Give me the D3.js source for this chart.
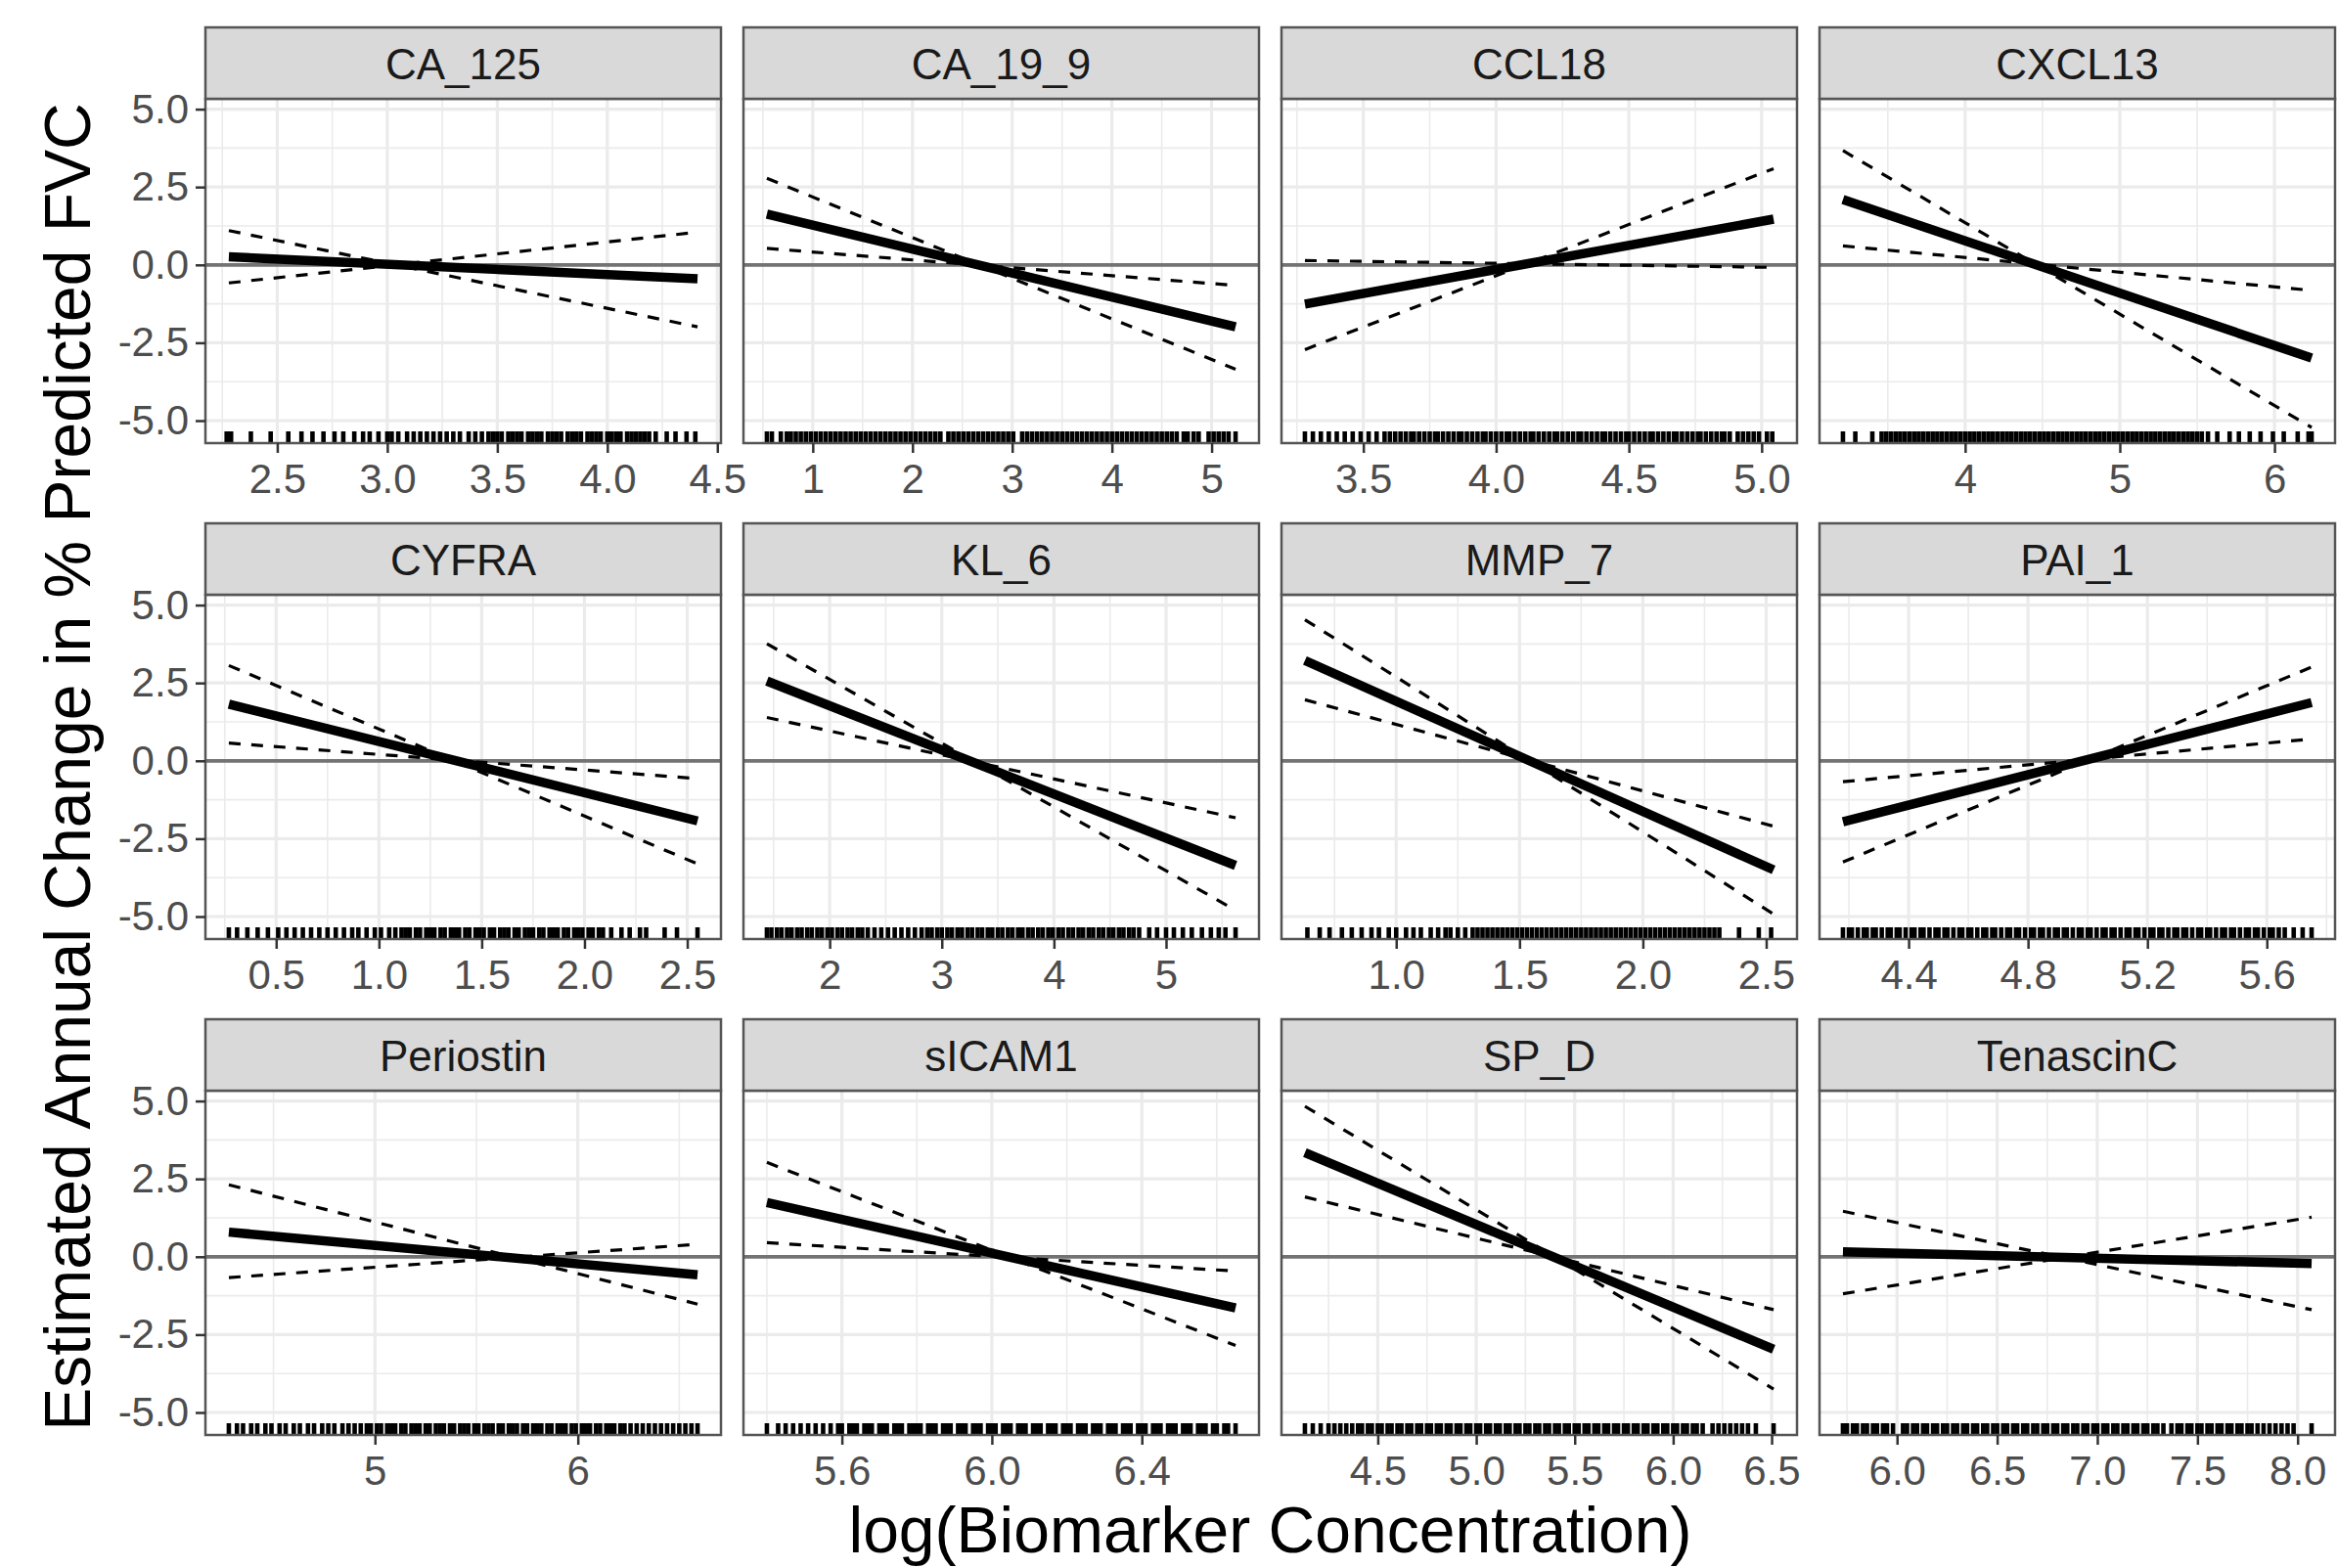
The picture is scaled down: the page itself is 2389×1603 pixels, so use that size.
<!DOCTYPE html>
<html>
<head>
<meta charset="utf-8">
<script src="https://cdn.jsdelivr.net/npm/d3@7"></script>
<style>
  body { margin: 0; background: #fff; }
  svg { display: block; font-family: "Liberation Sans", Arial, sans-serif; }
</style>
</head>
<body>
<div id="chart"></div>
<script>
// DATA

var biomarkers = ["CA_125", "CA_19_9", "CCL18", "CXCL13", "CYFRA", "KL_6",
  "MMP_7", "PAI_1", "Periostin", "sICAM1", "SP_D", "TenascinC"];

// range of log(concentration) covered by each fitted line
var xRanges = [[2.28, 4.41], [0.54, 5.24], [3.28, 5.045], [3.21, 6.24],
  [0.27, 2.55], [1.44, 5.62], [0.63, 2.53], [4.18, 5.75],
  [4.28, 6.59], [5.40, 6.65], [4.13, 6.51], [5.73, 8.07]];

// estimate at the left / right end of the range
var fitEnds = [[0.26, -0.45], [1.63, -1.99], [-1.26, 1.47], [2.1, -2.99],
  [1.82, -1.93], [2.56, -3.36], [3.22, -3.5], [-1.96, 1.87],
  [0.79, -0.58], [1.74, -1.64], [3.34, -2.97], [0.16, -0.22]];

// dashed bounds (two per panel)
var boundAEnds = [[1.1, -1.99], [2.78, -3.35], [-2.72, 3.09], [3.67, -5.22],
  [3.06, -3.31], [3.76, -4.8], [4.53, -4.92], [-3.25, 3.01],
  [2.31, -1.52], [3.03, -2.85], [4.83, -4.25], [1.46, -1.7]];
var boundBEnds = [[-0.58, 1.05], [0.53, -0.66], [0.14, -0.08], [0.61, -0.82],
  [0.57, -0.57], [1.39, -1.83], [1.96, -2.1], [-0.67, 0.7],
  [-0.67, 0.4], [0.45, -0.46], [1.92, -1.7], [-1.19, 1.27]];

var xTickLabels = [["2.5", "3.0", "3.5", "4.0", "4.5"], ["1", "2", "3", "4", "5"],
  ["3.5", "4.0", "4.5", "5.0"], ["4", "5", "6"],
  ["0.5", "1.0", "1.5", "2.0", "2.5"], ["2", "3", "4", "5"],
  ["1.0", "1.5", "2.0", "2.5"], ["4.4", "4.8", "5.2", "5.6"],
  ["5", "6"], ["5.6", "6.0", "6.4"],
  ["4.5", "5.0", "5.5", "6.0", "6.5"], ["6.0", "6.5", "7.0", "7.5", "8.0"]];

var yTickLabels = ["-5.0", "-2.5", "0.0", "2.5", "5.0"];

// rug: observed biomarker values
var rugCA125 = [2.27, 2.29, 2.38, 2.47, 2.55, 2.61, 2.66, 2.71, 2.76, 2.8, 2.85, 2.89, 2.92, 2.96, 3.0, 3.02, 3.05, 3.09, 3.12, 3.15, 3.18, 3.21, 3.24, 3.27, 3.3, 3.33, 3.37, 3.4, 3.43, 3.46,
  3.48, 3.5, 3.52, 3.55, 3.57, 3.59, 3.61, 3.64, 3.66, 3.68, 3.7, 3.73, 3.75, 3.77, 3.79, 3.82, 3.84, 3.86, 3.88, 3.91, 3.93, 3.95, 3.97, 4.0, 4.02, 4.04, 4.06, 4.09, 4.11, 4.13, 4.15, 4.17,
  4.19, 4.22, 4.27, 4.31, 4.36, 4.4];
var rugCA199 = [0.54, 0.59, 0.68, 0.74,
  0.78, 0.83, 0.88, 0.93, 0.98, 1.03, 1.08, 1.13, 1.18, 1.23, 1.28, 1.33, 1.38, 1.43, 1.48, 1.53, 1.58, 1.63, 1.68, 1.73, 1.78, 1.83, 1.88, 1.93, 1.98, 2.03, 2.08, 2.13, 2.18, 2.23, 2.28,
  2.36, 2.41, 2.46, 2.51, 2.56, 2.61, 2.66, 2.71, 2.76, 2.81, 2.86, 2.91, 2.96, 3.01, 3.1, 3.15, 3.2, 3.25, 3.3, 3.35, 3.4, 3.45, 3.5, 3.55, 3.6, 3.65, 3.7, 3.75, 3.8, 3.85, 3.9, 3.95,
  4.0, 4.05, 4.1, 4.15, 4.2, 4.25, 4.3, 4.35, 4.4, 4.45, 4.5, 4.55, 4.6, 4.65,
  4.72, 4.76, 4.82, 4.87, 4.97, 5.02, 5.07, 5.12, 5.17, 5.24];
var rugCCL18 = [3.28, 3.31, 3.34, 3.37, 3.4, 3.43, 3.46, 3.49, 3.52, 3.55, 3.58, 3.6,
  3.62, 3.64, 3.66, 3.68, 3.69, 3.71, 3.73, 3.75, 3.77, 3.78, 3.8, 3.82, 3.84, 3.86, 3.87, 3.89, 3.91, 3.93, 3.95, 3.96, 3.98, 4.0, 4.02, 4.04, 4.05, 4.07, 4.09, 4.11, 4.13, 4.14,
  4.16, 4.18, 4.2, 4.22, 4.23, 4.25, 4.27, 4.29, 4.31, 4.32, 4.34, 4.36, 4.38, 4.4, 4.41, 4.43, 4.45, 4.47, 4.49, 4.5, 4.52, 4.54, 4.56, 4.58, 4.59, 4.61, 4.63, 4.65, 4.67, 4.68,
  4.7, 4.72, 4.74, 4.76, 4.77, 4.79, 4.81, 4.83, 4.85, 4.86, 4.88,
  4.91, 4.93, 4.95, 4.97, 4.99, 5.02, 5.04];
var rugCXCL13 = [3.21, 3.29, 3.4, 3.46,
  3.49, 3.52, 3.55, 3.58, 3.61, 3.64, 3.67, 3.7, 3.73, 3.76, 3.79, 3.82, 3.85, 3.88, 3.91, 3.94, 3.97, 4.0, 4.03, 4.06, 4.09, 4.12, 4.15, 4.18, 4.21, 4.24, 4.27, 4.3, 4.33, 4.36,
  4.39, 4.42, 4.45, 4.48, 4.51, 4.54, 4.57, 4.6, 4.63, 4.66, 4.69, 4.72, 4.75, 4.78, 4.81, 4.84, 4.87, 4.9, 4.93, 4.96, 4.99, 5.02, 5.05, 5.08, 5.11, 5.14, 5.17, 5.2, 5.23, 5.26,
  5.29, 5.32, 5.35, 5.38, 5.41, 5.44, 5.47, 5.5, 5.53,
  5.57, 5.63, 5.71, 5.77, 5.84, 5.91, 5.99, 6.06, 6.15, 6.22, 6.24];
var rugCYFRA = [0.27, 0.31, 0.36, 0.41, 0.46, 0.51, 0.55, 0.59, 0.63, 0.67, 0.71, 0.75, 0.79, 0.83, 0.87, 0.9, 0.94, 0.98, 1.01, 1.05, 1.08, 1.11,
  1.13, 1.15, 1.18, 1.2, 1.23, 1.25, 1.27, 1.3, 1.32, 1.35, 1.37, 1.39, 1.42, 1.44, 1.47, 1.49, 1.51, 1.54, 1.56, 1.59, 1.61, 1.63, 1.66, 1.68, 1.71, 1.73, 1.75, 1.78, 1.8, 1.83,
  1.85, 1.87, 1.9, 1.92, 1.95, 1.97, 1.99, 2.02, 2.04, 2.07, 2.09,
  2.13, 2.18, 2.22, 2.27, 2.3, 2.39, 2.45, 2.55];
var rugKL6 = [1.44, 1.48, 1.53, 1.57, 1.62, 1.66, 1.71, 1.75, 1.8, 1.84, 1.89, 1.93, 1.98, 2.02, 2.07, 2.11, 2.16, 2.2, 2.25, 2.29,
  2.34, 2.4, 2.46, 2.52, 2.58, 2.64, 2.7, 2.76, 2.82,
  2.87, 2.91, 2.96, 3.0, 3.05, 3.09, 3.14, 3.18, 3.23, 3.27, 3.32, 3.36, 3.41, 3.45, 3.5, 3.54, 3.59, 3.63, 3.68, 3.72, 3.77, 3.81, 3.86, 3.9, 3.95, 3.99, 4.04, 4.08, 4.13, 4.17,
  4.22, 4.26, 4.31, 4.35, 4.4, 4.44, 4.49, 4.53, 4.58, 4.62, 4.67, 4.71,
  4.76, 4.85, 4.92, 5.0, 5.07, 5.15, 5.23, 5.32, 5.4, 5.47, 5.53, 5.62];
var rugMMP7 = [0.64, 0.69, 0.73, 0.78, 0.82, 0.86, 0.9, 0.93, 0.97, 1.0, 1.04, 1.07, 1.1, 1.14, 1.17, 1.2, 1.22, 1.25, 1.28, 1.31,
  1.33, 1.35, 1.37, 1.39, 1.41, 1.43, 1.45, 1.47, 1.49, 1.51, 1.53, 1.55, 1.57, 1.59, 1.61, 1.63, 1.65, 1.67, 1.69, 1.71, 1.73, 1.75, 1.77, 1.79, 1.81, 1.83, 1.85, 1.87, 1.89,
  1.91, 1.93, 1.95, 1.97, 1.99, 2.01, 2.03, 2.05, 2.07, 2.09, 2.11, 2.13, 2.15, 2.17, 2.19, 2.21, 2.23, 2.25, 2.27, 2.29, 2.31,
  2.39, 2.47, 2.52];
var rugPAI1 = [4.18, 4.2, 4.21, 4.23, 4.25, 4.26, 4.28, 4.29, 4.31, 4.33, 4.34, 4.36, 4.37, 4.39, 4.41, 4.42, 4.44, 4.45, 4.47, 4.49, 4.5, 4.52, 4.53, 4.55, 4.57, 4.58, 4.6,
  4.61, 4.63, 4.65, 4.66, 4.68, 4.69, 4.71, 4.73, 4.74, 4.76, 4.77, 4.79, 4.81, 4.82, 4.84, 4.85, 4.87, 4.89, 4.9, 4.92, 4.93, 4.95, 4.97, 4.98, 5.0, 5.01, 5.03, 5.05, 5.06, 5.08,
  5.09, 5.11, 5.13, 5.14, 5.16, 5.17, 5.19, 5.21, 5.22, 5.24, 5.25, 5.27, 5.29, 5.3, 5.32, 5.33, 5.35, 5.37, 5.38, 5.4, 5.41, 5.43, 5.45, 5.46, 5.48, 5.49, 5.51, 5.53, 5.54,
  5.56, 5.57, 5.59, 5.61, 5.62, 5.64, 5.66, 5.69, 5.72, 5.75];
var rugPeriostin = [4.28, 4.32, 4.35, 4.39, 4.42, 4.46, 4.49, 4.53, 4.56, 4.6, 4.63, 4.67, 4.7, 4.74, 4.77, 4.8, 4.84, 4.87, 4.9, 4.93,
  4.96, 4.98, 5.01, 5.03, 5.06, 5.08, 5.1, 5.13, 5.15, 5.18, 5.2, 5.22, 5.25, 5.27, 5.3, 5.32, 5.34, 5.37, 5.39, 5.42, 5.44, 5.46, 5.49, 5.51, 5.54, 5.56, 5.58, 5.61, 5.63, 5.66,
  5.68, 5.7, 5.73, 5.75, 5.78, 5.8, 5.82, 5.85, 5.87, 5.9, 5.92, 5.94, 5.97, 5.99, 6.02, 6.04, 6.06, 6.09, 6.11, 6.14, 6.16, 6.18, 6.21, 6.23, 6.26,
  6.29, 6.32, 6.35, 6.38, 6.41, 6.44, 6.47, 6.5, 6.53, 6.56, 6.59];
var rugSICAM1 = [5.4, 5.43, 5.45, 5.47, 5.49, 5.51, 5.53, 5.55, 5.57,
  5.59, 5.6, 5.62, 5.63, 5.64, 5.66, 5.67, 5.68, 5.7, 5.71, 5.72, 5.74, 5.75, 5.76, 5.78, 5.79, 5.8, 5.81, 5.83, 5.84, 5.85, 5.87, 5.88, 5.89, 5.91, 5.92, 5.93, 5.95, 5.96, 5.97,
  5.99, 6.0, 6.01, 6.03, 6.04, 6.05, 6.07, 6.08, 6.09, 6.11, 6.12, 6.13, 6.15, 6.16, 6.17, 6.19, 6.2, 6.21, 6.23, 6.24, 6.25, 6.27, 6.28, 6.29, 6.31, 6.32, 6.33, 6.35, 6.36,
  6.37, 6.39, 6.4, 6.41, 6.43, 6.44, 6.45, 6.47, 6.48, 6.49, 6.51, 6.52, 6.53, 6.55, 6.56, 6.57, 6.59, 6.6, 6.62, 6.63, 6.65];
var rugSPD = [4.13, 4.17, 4.21, 4.25, 4.28, 4.31, 4.34, 4.37,
  4.4, 4.42, 4.45, 4.47, 4.5, 4.52, 4.55, 4.57, 4.6, 4.62, 4.65, 4.67, 4.7, 4.72, 4.75, 4.77, 4.8, 4.82, 4.85, 4.87, 4.9, 4.92, 4.95, 4.97, 5.0, 5.02, 5.05, 5.07, 5.1, 5.12,
  5.15, 5.17, 5.2, 5.22, 5.25, 5.27, 5.3, 5.32, 5.35, 5.37, 5.4, 5.42, 5.45, 5.47, 5.5, 5.52, 5.55, 5.57, 5.6, 5.62, 5.65, 5.67, 5.7, 5.72, 5.75, 5.77, 5.8, 5.82, 5.85, 5.87,
  5.9, 5.92, 5.95, 5.97, 6.0, 6.02, 6.05, 6.07, 6.1, 6.12, 6.15,
  6.2, 6.23, 6.26, 6.29, 6.32, 6.35, 6.38, 6.42, 6.51];
var rugTenascinC = [5.73, 5.75, 5.78, 5.8, 5.83, 5.85, 5.88, 5.9, 5.93, 5.95, 5.98,
  6.03, 6.05, 6.08, 6.1, 6.13, 6.15, 6.18, 6.2, 6.23, 6.25, 6.28, 6.3, 6.33, 6.35, 6.38, 6.4, 6.43, 6.45, 6.48, 6.5, 6.53, 6.55, 6.58, 6.6, 6.63, 6.65, 6.68, 6.7, 6.73, 6.75,
  6.78, 6.8, 6.83, 6.85, 6.88, 6.9, 6.93, 6.95, 6.98, 7.0, 7.03, 7.05, 7.08, 7.1, 7.13, 7.15, 7.18, 7.2, 7.23, 7.25, 7.28, 7.3, 7.33,
  7.37, 7.4, 7.42, 7.45, 7.47, 7.5, 7.52, 7.55, 7.57, 7.6, 7.62, 7.65, 7.67, 7.7, 7.72, 7.75, 7.77, 7.8,
  7.83, 7.86, 7.89, 7.92, 7.95, 7.98, 8.07];

var rugs = [rugCA125, rugCA199, rugCCL18, rugCXCL13, rugCYFRA, rugKL6,
  rugMMP7, rugPAI1, rugPeriostin, rugSICAM1, rugSPD, rugTenascinC];

// LAYOUT
var width = 2389, height = 1603;
var panelX = [210, 760, 1310, 1860], panelW = 527;
var stripY = [28, 535, 1042], stripH = 73, panelH = 352;
var fontFam = '"Liberation Sans", Arial, sans-serif';

const svg = d3.select("#chart").append("svg")
  .attr("width", width)
  .attr("height", height);

// shared y scale, 5% padding like ggplot
var allY = [].concat(...fitEnds, ...boundAEnds, ...boundBEnds);
var yMin = d3.min(allY), yMax = d3.max(allY), yPad = (yMax - yMin) * 0.05;
var yScale = d3.scaleLinear().domain([yMin - yPad, yMax + yPad]).range([panelH, 0]);
var yTicks = yTickLabels.map(Number);

// minor breaks halfway between major ones
function minorBreaks(major, domain) {
  var step = major[1] - major[0];
  var out = [];
  for (var k = -1; k < major.length; k++) {
    var m = (k < 0 ? major[0] - step : major[k]) + step / 2;
    if (m > domain[0] && m < domain[1]) out.push(m);
  }
  return out;
}

biomarkers.forEach(function (name, i) {
  var col = i % 4, row = Math.floor(i / 4);
  var px = panelX[col], py = stripY[row] + stripH;
  var xr = xRanges[i], xPad = (xr[1] - xr[0]) * 0.05;
  var xScale = d3.scaleLinear().domain([xr[0] - xPad, xr[1] + xPad]).range([0, panelW]);
  var xTicks = xTickLabels[i].map(Number);

  var g = svg.append("g").attr("transform", "translate(" + px + "," + py + ")");

  g.append("rect")
    .attr("width", panelW).attr("height", panelH)
    .attr("fill", "#fff");

  // grid
  g.selectAll(".xminor").data(minorBreaks(xTicks, xScale.domain())).join("line")
    .attr("x1", d => xScale(d)).attr("x2", d => xScale(d))
    .attr("y1", 0).attr("y2", panelH)
    .attr("stroke", "#ebebeb").attr("stroke-width", 1.6);
  g.selectAll(".yminor").data(minorBreaks(yTicks, yScale.domain())).join("line")
    .attr("x1", 0).attr("x2", panelW)
    .attr("y1", d => yScale(d)).attr("y2", d => yScale(d))
    .attr("stroke", "#ebebeb").attr("stroke-width", 1.6);
  g.selectAll(".xmajor").data(xTicks).join("line")
    .attr("x1", d => xScale(d)).attr("x2", d => xScale(d))
    .attr("y1", 0).attr("y2", panelH)
    .attr("stroke", "#ebebeb").attr("stroke-width", 3.2);
  g.selectAll(".ymajor").data(yTicks).join("line")
    .attr("x1", 0).attr("x2", panelW)
    .attr("y1", d => yScale(d)).attr("y2", d => yScale(d))
    .attr("stroke", "#ebebeb").attr("stroke-width", 3.2);

  // reference line at 0
  g.append("line")
    .attr("x1", 0).attr("x2", panelW)
    .attr("y1", yScale(0)).attr("y2", yScale(0))
    .attr("stroke", "#737373").attr("stroke-width", 3.8);

  // rug
  g.selectAll(".rug").data(rugs[i]).join("line")
    .attr("x1", d => xScale(d)).attr("x2", d => xScale(d))
    .attr("y1", panelH).attr("y2", panelH - 12)
    .attr("stroke", "#000").attr("stroke-width", 4.6);

  var line = d3.line().x(d => xScale(d[0])).y(d => yScale(d[1]));
  var ends = function (arr) {
    return [[xr[0], arr[i][0]], [xr[1], arr[i][1]]];
  };

  [boundAEnds, boundBEnds].forEach(function (b) {
    g.append("path")
      .attr("d", line(ends(b)))
      .attr("fill", "none")
      .attr("stroke", "#000")
      .attr("stroke-width", 3.2)
      .attr("stroke-dasharray", "12,11");
  });

  g.append("path")
    .attr("d", line(ends(fitEnds)))
    .attr("fill", "none")
    .attr("stroke", "#000")
    .attr("stroke-width", 9.5);

  // panel border
  g.append("rect")
    .attr("width", panelW).attr("height", panelH)
    .attr("fill", "none")
    .attr("stroke", "#555").attr("stroke-width", 2.5);

  // strip
  svg.append("rect")
    .attr("x", px).attr("y", stripY[row])
    .attr("width", panelW).attr("height", stripH)
    .attr("fill", "#d9d9d9")
    .attr("stroke", "#555").attr("stroke-width", 2.5);
  svg.append("text")
    .attr("x", px + panelW / 2).attr("y", stripY[row] + stripH / 2 + 16)
    .attr("text-anchor", "middle")
    .attr("font-size", 44)
    .attr("fill", "#1a1a1a")
    .text(name);

  // x axis
  g.append("g")
    .attr("transform", "translate(0," + panelH + ")")
    .call(d3.axisBottom(xScale).tickValues(xTicks)
      .tickFormat((d, k) => xTickLabels[i][k])
      .tickSize(10).tickPadding(11))
    .call(a => a.select(".domain").remove())
    .call(a => a.selectAll("line").attr("stroke", "#333").attr("stroke-width", 2.5))
    .call(a => a.selectAll("text").attr("fill", "#4d4d4d")
      .attr("font-size", 42).attr("font-family", fontFam));

  // y axis on first column
  if (col == 0) {
    g.append("g")
      .call(d3.axisLeft(yScale).tickValues(yTicks)
        .tickFormat((d, k) => yTickLabels[k])
        .tickSize(10).tickPadding(7))
      .call(a => a.select(".domain").remove())
      .call(a => a.selectAll("line").attr("stroke", "#333").attr("stroke-width", 2.5))
      .call(a => a.selectAll("text").attr("fill", "#4d4d4d")
        .attr("font-size", 42).attr("font-family", fontFam));
  }
});

// axis titles
svg.append("text")
  .attr("x", (panelX[0] + panelX[3] + panelW) / 2)
  .attr("y", 1587)
  .attr("text-anchor", "middle")
  .attr("font-size", 66)
  .attr("fill", "#000")
  .text("log(Biomarker Concentration)");

svg.append("text")
  .attr("transform", "translate(92," + (stripY[0] + stripH + stripY[2] + stripH + panelH) / 2 + ") rotate(-90)")
  .attr("text-anchor", "middle")
  .attr("font-size", 66)
  .attr("fill", "#000")
  .text("Estimated Annual Change in % Predicted FVC");
</script>
</body>
</html>
